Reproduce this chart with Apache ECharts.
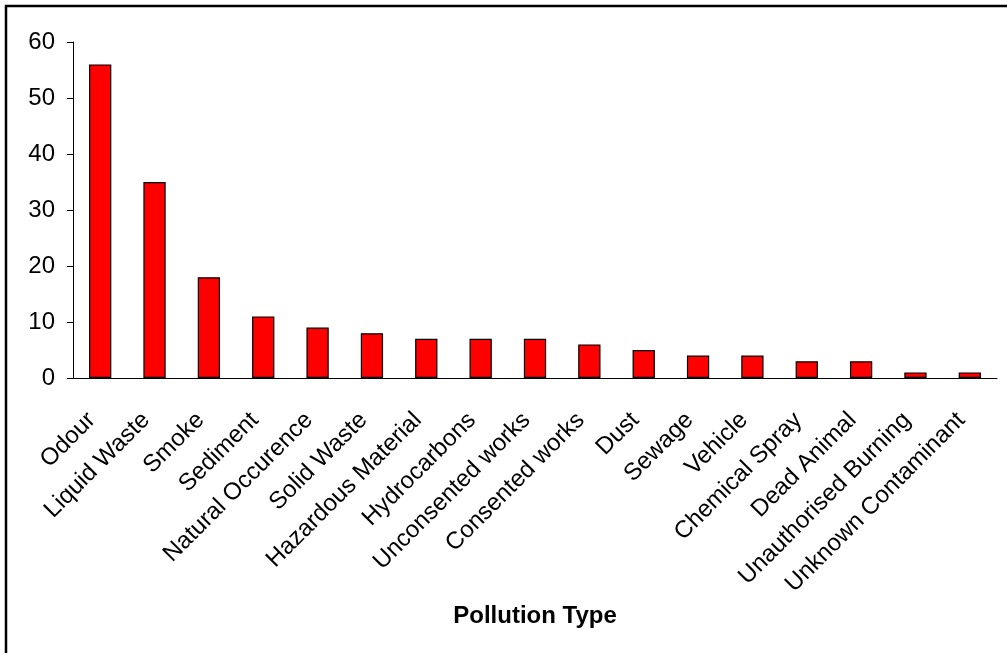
<!DOCTYPE html>
<html>
<head>
<meta charset="utf-8">
<script src="https://cdn.jsdelivr.net/npm/echarts@6/dist/echarts.min.js"></script>
<style>
html,body{margin:0;padding:0;background:#fff;}
#chart{width:1007px;height:653px;}
</style>
</head>
<body>
<div id="chart"></div>
<script>
const categories = ["Odour","Liquid Waste","Smoke","Sediment","Natural Occurence","Solid Waste","Hazardous Material","Hydrocarbons","Unconsented works","Consented works","Dust","Sewage","Vehicle","Chemical Spray","Dead Animal","Unauthorised Burning","Unknown Contaminant"];
const counts = [56,35,18,11,9,8,7,7,7,6,5,4,4,3,3,1,1];
const yTicks = {min:0, max:60, interval:10};

const FONT = 'Liberation Sans, Arial, sans-serif';
const chart = echarts.init(document.getElementById('chart'));
chart.setOption({
  animation:false,
  backgroundColor:'#fff',
  textStyle:{fontFamily:FONT},
  graphic:[{type:'rect',shape:{x:6,y:6,width:1020,height:680},style:{fill:'none',stroke:'#000',lineWidth:2.5},silent:true}],
  grid:{left:73,right:10,top:42,bottom:275,containLabel:false},
  xAxis:{
    type:'category',
    data:categories,
    name:'Pollution Type',
    nameLocation:'middle',
    nameGap:226,
    nameTextStyle:{fontSize:24,fontWeight:'bold',color:'#000',fontFamily:FONT},
    axisLine:{lineStyle:{color:'#000',width:1}},
    axisTick:{alignWithLabel:false,length:7,lineStyle:{color:'#000'}},
    axisLabel:{rotate:45,interval:0,fontSize:24,color:'#000',margin:30,padding:[0,12,0,0],fontFamily:FONT}
  },
  yAxis:{
    type:'value',
    min:yTicks.min,max:yTicks.max,interval:yTicks.interval,
    splitLine:{show:false},
    axisLine:{show:true,lineStyle:{color:'#000',width:1}},
    axisTick:{show:true,length:6,lineStyle:{color:'#000'}},
    axisLabel:{fontSize:24,color:'#000',margin:18,fontFamily:FONT}
  },
  series:[{
    type:'bar',
    data:counts,
    barWidth:'41%',
    itemStyle:{color:'#ff0000',borderColor:'#000',borderWidth:1.2}
  }]
});
</script>
</body>
</html>
